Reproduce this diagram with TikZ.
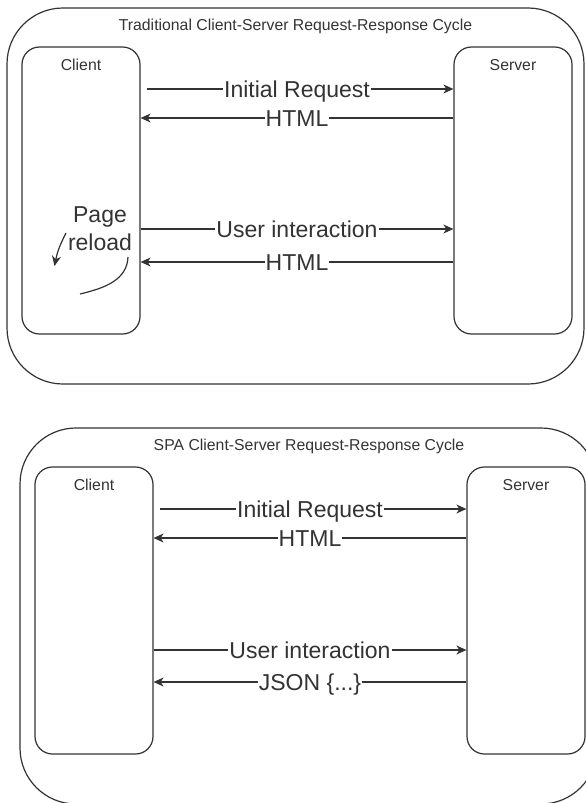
\documentclass[tikz,border=0pt]{standalone}
\usepackage{fontspec}
\setmainfont{Liberation Sans}
\usetikzlibrary{arrows.meta}
\definecolor{ink}{HTML}{333333}
\definecolor{txt}{HTML}{333333}
\begin{document}
\begin{tikzpicture}[x=1pt,y=-1pt,
  line/.style={draw=ink, line width=1.2pt},
  outerbox/.style={line, rounded corners=56pt, inner sep=0pt, minimum width=577pt, minimum height=376pt},
  innerbox/.style={line, rounded corners=17.5pt, inner sep=0pt, minimum width=118pt, minimum height=287pt},
  arr/.style={line, -{Stealth[length=10pt,width=9pt,inset=3pt]}},
  lbl/.style={fill=white, inner xsep=1pt, inner ysep=1pt, text height=16.5pt, text depth=0pt, text=txt, font=\fontsize{23}{27.5}\selectfont},
  smalltxt/.style={inner sep=0pt, text height=11.3pt, text depth=0pt, text=txt, font=\fontsize{15.8}{19}\selectfont},
  reloadtxt/.style={text=txt, font=\fontsize{23}{27.5}\selectfont, align=center, inner sep=0pt}
]
\useasboundingbox (0,0) rectangle (586,803);
\clip (0,0) rectangle (586,803);

% ---------- Traditional ----------
\node[outerbox] (tout) at (295.5,196) {};
\node[smalltxt] (ttitle) at (295.5,25) {Traditional Client-Server Request-Response Cycle};
\node[innerbox] (tc) at (81,190.5) {};
\node[innerbox] (ts) at (513,190.5) {};
\node[smalltxt] (tcl) at (81,64.5) {Client};
\node[smalltxt] (tsl) at (513,64.5) {Server};

\draw[arr, shorten <=6pt] (tc.east |- 0,89) -- node[lbl] {Initial Request} (ts.west |- 0,89);
\draw[arr] (ts.west |- 0,118) -- node[lbl] {HTML} (tc.east |- 0,118);
\draw[arr] (tc.east |- 0,229) -- node[lbl] {User interaction} (ts.west |- 0,229);
\draw[arr] (ts.west |- 0,262) -- node[lbl] {HTML} (tc.east |- 0,262);

\node[reloadtxt] (reload) at (100,228.5) {Page\\reload};
\coordinate (r1s) at (66,233);
\coordinate (r1e) at (54.5,266);
\draw[arr] (r1s) to[bend right=8] (r1e);
\coordinate (r2s) at (128,257);
\coordinate (r2e) at (80,294);
\draw[line] (r2s) .. controls (127,280) and (105,288) .. (r2e);

% ---------- SPA ----------
\begin{scope}[shift={(13,420)}]
\node[outerbox] (sout) at (295.5,196) {};
\node[smalltxt] (stitle) at (296,25) {SPA Client-Server Request-Response Cycle};
\node[innerbox] (sc) at (81,190.5) {};
\node[innerbox] (ss) at (513,190.5) {};
\node[smalltxt] (scl) at (81,64.5) {Client};
\node[smalltxt] (ssl) at (513,64.5) {Server};

\draw[arr, shorten <=6pt] (sc.east |- 0,89) -- node[lbl] {Initial Request} (ss.west |- 0,89);
\draw[arr] (ss.west |- 0,118) -- node[lbl] {HTML} (sc.east |- 0,118);
\draw[arr] (sc.east |- 0,230) -- node[lbl] {User interaction} (ss.west |- 0,230);
\draw[arr] (ss.west |- 0,262) -- node[lbl] {JSON \{...\}} (sc.east |- 0,262);
\end{scope}
\end{tikzpicture}
\end{document}
